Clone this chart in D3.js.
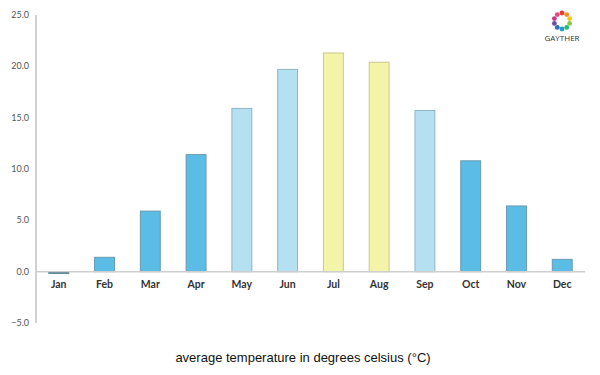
<!DOCTYPE html>
<html>
<head>
<meta charset="utf-8">
<script src="https://cdn.jsdelivr.net/npm/d3@7"></script>
<style>
  html, body { margin: 0; padding: 0; background: #fff; }
  svg { display: block; }
</style>
</head>
<body>
<div id="chart"></div>
<script>
// average monthly temperature, bar chart
const months = ['Jan', 'Feb', 'Mar', 'Apr', 'May', 'Jun', 'Jul', 'Aug', 'Sep', 'Oct', 'Nov', 'Dec'];
const temps  = [-0.1, 1.4, 5.9, 11.4, 15.9, 19.7, 21.3, 20.4, 15.7, 10.8, 6.4, 1.2];
const season = ['cold', 'cold', 'cold', 'cold', 'mild', 'mild', 'hot', 'hot', 'mild', 'cold', 'cold', 'cold'];
const yTicks = [-5, 0, 5, 10, 15, 20, 25];
const title  = 'average temperature in degrees celsius (°C)';
const logoColors = ['#e63b2e', '#f28c1e', '#f5c518', '#8cc63f', '#2bb673', '#1ba1c4', '#2e6db4', '#6b4ea0', '#c2378c', '#e8457a'];

const W = 600, H = 375;
const margin = { top: 15, right: 15, bottom: 52, left: 36 };

const fills   = { cold: '#5bbde5', mild: '#b4e0f1', hot: '#f3f4a8' };
const strokes = { cold: '#6a9bb0', mild: '#8fb5c4', hot: '#c9c98e' };

const svg = d3.select('#chart').append('svg').attr('width', W).attr('height', H);

const x = d3.scaleBand().domain(months)
  .range([margin.left, W - margin.right])
  .paddingInner(0.565).paddingOuter(0.28);
const y = d3.scaleLinear().domain([-5, 25]).range([323, margin.top]);

// y axis line
svg.append('line')
  .attr('x1', margin.left).attr('x2', margin.left)
  .attr('y1', y(25)).attr('y2', y(-5))
  .attr('stroke', '#d0d0d0').attr('stroke-width', 2);

svg.append('g').selectAll('text').data(yTicks).join('text')
  .attr('x', margin.left - 7).attr('y', d => y(d)).attr('dy', '0.35em')
  .attr('text-anchor', 'end')
  .attr('font-family', 'Lato, "DejaVu Sans", sans-serif').attr('font-size', 9)
  .attr('fill', '#555')
  .text(d => d3.format('.1f')(d));

// bars
svg.append('g').selectAll('rect').data(temps).join('rect')
  .attr('x', (d, i) => x(months[i]))
  .attr('width', x.bandwidth())
  .attr('y', d => y(Math.max(0, d)))
  .attr('height', d => Math.max(1.5, Math.abs(y(d) - y(0))))
  .attr('fill', (d, i) => d < 0 ? '#1f5f7a' : fills[season[i]])
  .attr('stroke', (d, i) => d < 0 ? '#1f5f7a' : strokes[season[i]])
  .attr('stroke-width', 1);

// zero line
svg.append('line')
  .attr('x1', margin.left).attr('x2', W - margin.right)
  .attr('y1', y(0)).attr('y2', y(0))
  .attr('stroke', '#cfcfcf').attr('stroke-width', 1.5);

// month labels
svg.append('g').selectAll('text').data(months).join('text')
  .attr('x', d => x(d) + x.bandwidth() / 2).attr('y', y(0) + 16)
  .attr('text-anchor', 'middle')
  .attr('font-family', 'Lato, "DejaVu Sans", sans-serif').attr('font-size', 10.5)
  .attr('font-weight', 'bold').attr('fill', '#333')
  .text(d => d);

// title
svg.append('text')
  .attr('x', 303).attr('y', 362)
  .attr('text-anchor', 'middle')
  .attr('font-family', 'Arial, "Liberation Sans", sans-serif').attr('font-size', 13)
  .attr('fill', '#111')
  .text(title);

// logo
const logo = svg.append('g').attr('transform', 'translate(562,21)');
logo.selectAll('circle').data(logoColors).join('circle')
  .attr('cx', (d, i) => 8 * Math.cos(i / logoColors.length * 2 * Math.PI - Math.PI / 2))
  .attr('cy', (d, i) => 8 * Math.sin(i / logoColors.length * 2 * Math.PI - Math.PI / 2))
  .attr('r', 2.4)
  .attr('fill', d => d);
logo.append('text')
  .attr('y', 20).attr('text-anchor', 'middle')
  .attr('font-family', '"Open Sans", sans-serif').attr('font-size', 8)
  .attr('fill', '#333')
  .text('GAYTHER');
</script>
</body>
</html>
